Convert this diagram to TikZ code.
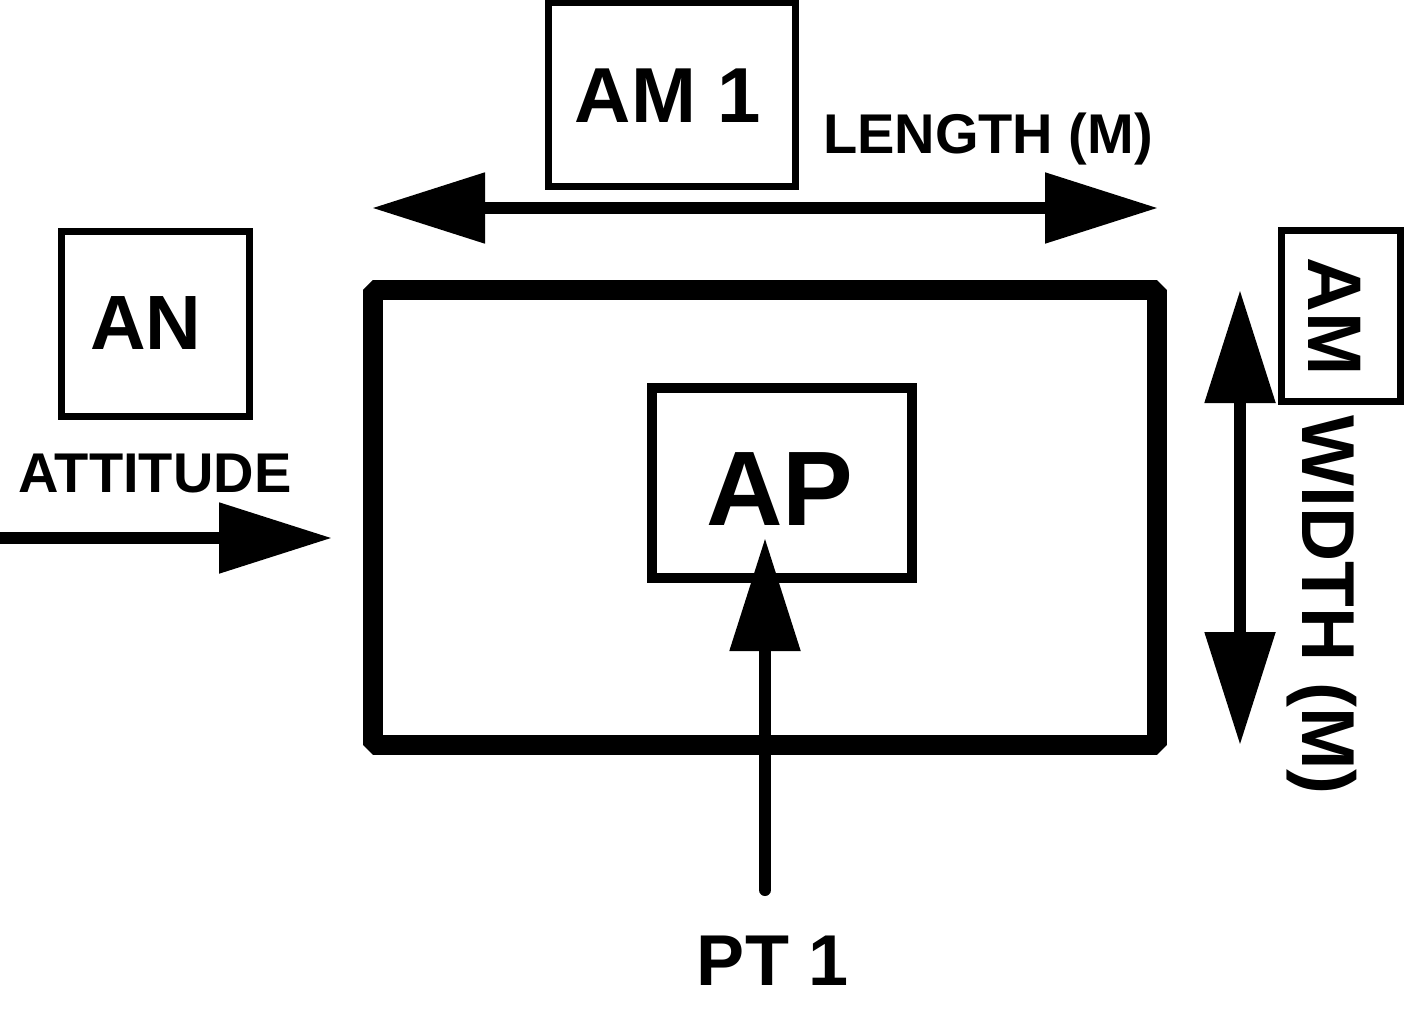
\documentclass[tikz,border=0pt]{standalone}
\usepackage{fontspec}
\setmainfont{Liberation Sans}
\usetikzlibrary{arrows.meta}
\tikzset{
  box/.style={draw, line width=#1, inner sep=0pt},
  lbl/.style={inner sep=0pt, anchor=base, font=\bfseries\fontsize{#1}{#1}\selectfont},
  arr/.style={line width=12pt, >={Triangle[length=113pt,width=68pt]}},
}
\begin{document}
\begin{tikzpicture}[x=1pt,y=-1pt]
\useasboundingbox (0,0) rectangle (1404,1014);
% main frame
\node[box=20pt, line join=bevel, minimum width=784pt, minimum height=455pt] (frame) at (765,517.5) {};
% boxes
\node[box=7pt, minimum width=247pt, minimum height=183pt] (am1box) at (671.5,94.5) {};
\node[box=7pt, minimum width=188pt, minimum height=185pt] (anbox) at (155,323.5) {};
\node[box=10pt, minimum width=260pt, minimum height=190pt] (apbox) at (782,483) {};
\node[box=7pt, minimum width=119pt, minimum height=171pt] (ambox) at (1340.5,316) {};
% labels
\node[lbl=78] (am1) at (668,122) {AM 1};
\node[lbl=56] (length) at (988,153) {LENGTH (M)};
\node[lbl=77] (an) at (146,349) {AN};
\node[lbl=56] (attitude) at (155,492) {ATTITUDE};
\node[lbl=106] (ap) at (780,525) {AP};
\node[lbl=72] (pt) at (773,985) {PT 1};
\node[lbl=76, rotate=-90] (am) at (1308,317) {AM};
\node[lbl=75, rotate=-90] (width) at (1302,605) {WIDTH (M)};
% arrow end points
\coordinate (lenL) at (372,208);
\coordinate (lenR) at (1158,208);
\coordinate (widT) at (1240,290);
\coordinate (widB) at (1240,745);
\coordinate (attS) at (0,538);
\coordinate (attE) at (332,538);
\coordinate (ptS) at (765,890);
\coordinate (ptE) at (765,538);
% arrows
\draw[arr, <->] (lenL) -- (lenR);
\draw[arr, <->] (widT) -- (widB);
\draw[arr, ->] (attS) -- (attE);
\draw[arr, line cap=round, ->] (ptS) -- (ptE);
\end{tikzpicture}
\end{document}
